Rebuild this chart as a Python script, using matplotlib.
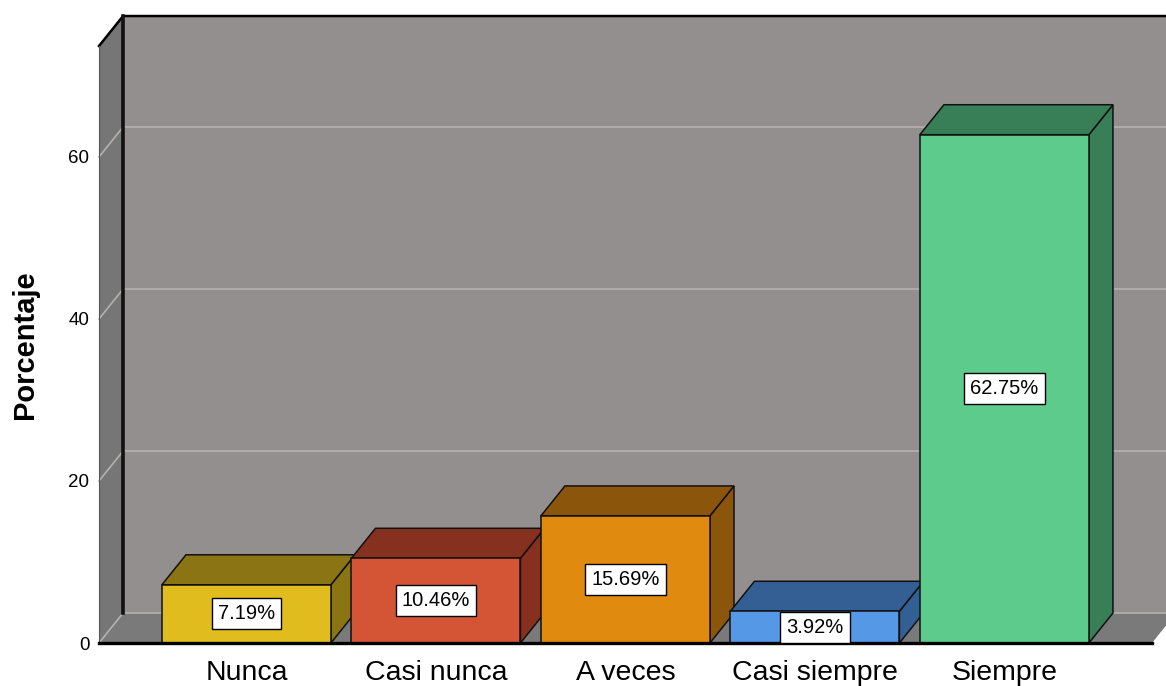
"""3D-style bar chart of response frequencies (percent of answers per option)."""

import matplotlib.pyplot as plt
from matplotlib.patches import Polygon, Rectangle

CATEGORIES = ["Nunca", "Casi nunca", "A veces", "Casi siempre", "Siempre"]
PERCENTS = [7.19, 10.46, 15.69, 3.92, 62.75]
Y_TICKS = [0, 20, 40, 60]

FRONT_COLORS = ["#e0bc1f", "#d35535", "#e08a10", "#5598e6", "#5ccb8c"]
SHADE_COLORS = ["#8a7414", "#863120", "#8b560b", "#335f95", "#387e56"]

WALL_BACK = "#938f8e"
WALL_SIDE = "#767676"
FLOOR = "#7a7a7a"
GRID = "#b4b1b0"

# extent of the front plane, and the depth of the box in data units
X_LO, X_HI = -0.778, 4.779
Y_TOP = 73.7
DX, DY = 0.127, 3.7
BAR_W = 0.892

plt.rcParams["font.family"] = ["Liberation Sans", "DejaVu Sans"]

fig = plt.figure(figsize=(11.66, 6.86), dpi=100)
ax = fig.add_axes([99 / 1166, 43 / 686, 1053 / 1166, 597 / 686])
ax.set_xlim(X_LO, X_HI)
ax.set_ylim(0, Y_TOP)
ax.patch.set_visible(False)
for spine in ax.spines.values():
    spine.set_visible(False)


def face(points, color, z, lw=0.0, ec="none"):
    ax.add_patch(Polygon(points, closed=True, facecolor=color, edgecolor=ec,
                         linewidth=lw, zorder=z, clip_on=False))


# walls and floor
face([(X_LO + DX, DY), (X_HI + DX, DY), (X_HI + DX, Y_TOP + DY), (X_LO + DX, Y_TOP + DY)],
     WALL_BACK, 0)
face([(X_LO, 0), (X_LO, Y_TOP), (X_LO + DX, Y_TOP + DY), (X_LO + DX, DY)], WALL_SIDE, 0)
face([(X_LO, 0), (X_HI, 0), (X_HI + DX, DY), (X_LO + DX, DY)], FLOOR, 0)

for g in Y_TICKS:
    ax.plot([X_LO, X_LO + DX, X_HI + DX], [g, g + DY, g + DY], color=GRID,
            linewidth=1.2, zorder=0.5, clip_on=False)

ax.plot([X_LO, X_LO + DX, X_HI + DX], [Y_TOP, Y_TOP + DY, Y_TOP + DY], color="black",
        linewidth=1.8, zorder=1, clip_on=False, solid_joinstyle="miter")
ax.plot([X_LO + DX, X_LO + DX], [DY, Y_TOP + DY], color="#111111", linewidth=2.6,
        zorder=1, clip_on=False)
ax.plot([X_LO, X_LO], [0, Y_TOP], color="#555555", linewidth=0.8, zorder=1, clip_on=False)

# bars, left to right so each front face covers the previous side face
for i, (pct, front, shade) in enumerate(zip(PERCENTS, FRONT_COLORS, SHADE_COLORS)):
    x0, x1 = i - BAR_W / 2, i + BAR_W / 2
    z = 2 + i
    face([(x1, 0), (x1 + DX, DY), (x1 + DX, pct + DY), (x1, pct)], shade, z, 1.1, "#111111")
    face([(x0, pct), (x1, pct), (x1 + DX, pct + DY), (x0 + DX, pct + DY)], shade, z, 1.1,
         "#111111")
    ax.add_patch(Rectangle((x0, 0), BAR_W, pct, facecolor=front, edgecolor="#111111",
                           linewidth=1.1, zorder=z, clip_on=False))
    ax.text(i, pct / 2, f"{pct:.2f}%", ha="center", va="center", fontsize=14.5, zorder=20,
            bbox=dict(boxstyle="square,pad=0.3", facecolor="white", edgecolor="black",
                      linewidth=1.0))

ax.plot([X_LO, X_HI], [0, 0], color="black", linewidth=2.4, zorder=15, clip_on=False)

ax.set_yticks(Y_TICKS)
ax.set_yticklabels([str(t) for t in Y_TICKS], fontsize=13.5)
ax.set_xticks(range(len(CATEGORIES)))
ax.set_xticklabels(CATEGORIES, fontsize=20.5)
ax.tick_params(axis="y", length=0, pad=7)
ax.tick_params(axis="x", length=0, pad=12)
ax.set_ylabel("Porcentaje", fontsize=21, fontweight="bold", labelpad=21)

fig.savefig("out.png", dpi=100, facecolor="white")
